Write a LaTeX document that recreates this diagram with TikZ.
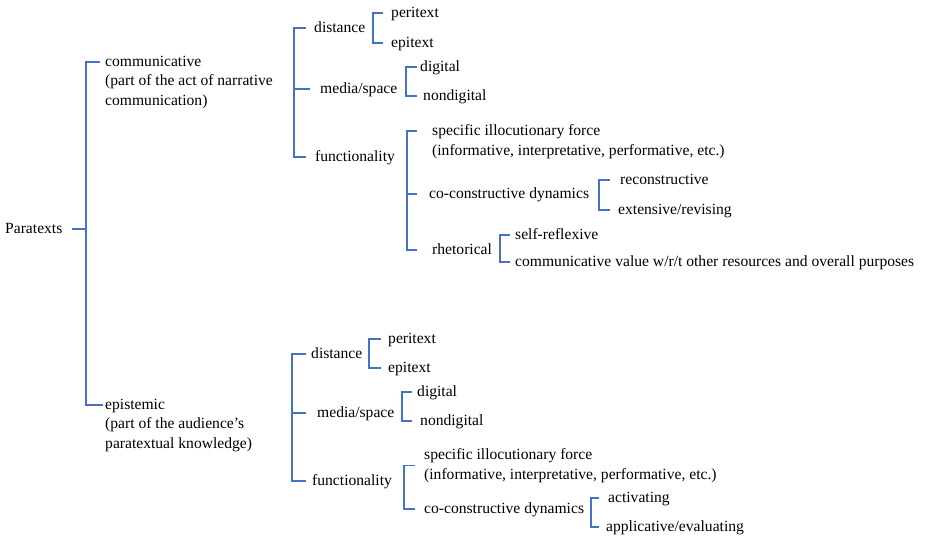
\documentclass[tikz,border=0pt]{standalone}
\usepackage{fontspec}
\setmainfont{Liberation Serif}
\newfontfamily\ser{Liberation Serif}
\definecolor{brblue}{RGB}{68,114,196}
\begin{document}
\begin{tikzpicture}[x=1pt,y=-1pt,
  br/.style={draw=brblue,line width=1.1pt},
  t/.style={inner sep=0pt,anchor=west,text height=12pt,text depth=3pt,font=\fontsize{15.6}{19.5}\selectfont\ser},
  ml/.style={inner sep=0pt,anchor=north west,align=left,font=\fontsize{15.6}{19.5}\selectfont\ser},
  mc/.style={inner sep=0pt,anchor=west,align=left,font=\fontsize{15.6}{19.5}\selectfont\ser}]
\useasboundingbox (0,0) rectangle (931,538);

% root
\node[t] (par) at (5,229) {Paratexts};
\node[ml] (comm) at (105,55.6) {communicative\\(part of the act of narrative\\communication)};
\node[ml] (epis) at (105,398.6) {epistemic\\(part of the audience’s\\paratextual knowledge)};

% upper branch
\node[t] (ud) at (314,28) {distance};
\node[t] (um) at (320,89) {media/space};
\node[t] (uf) at (315,157) {functionality};
\node[t] (up) at (391,13) {peritext};
\node[t] (ue) at (391,43) {epitext};
\node[t] (udg) at (420,67) {digital};
\node[t] (und) at (423,96) {nondigital};
\node[ml] (usp) at (432,124.6) {specific illocutionary force\\(informative, interpretative, performative, etc.)};
\node[t] (ucc) at (429,194) {co-constructive dynamics};
\node[t] (urh) at (432,250) {rhetorical};
\node[t] (urc) at (620,180) {reconstructive};
\node[t] (uex) at (618,210) {extensive/revising};
\node[t] (usr) at (515,235) {self-reflexive};
\node[t] (ucv) at (515,262) {communicative value w/r/t other resources and overall purposes};

% lower branch
\node[t] (ld) at (311,354) {distance};
\node[t] (lm) at (317,413) {media/space};
\node[t] (lf) at (312,481) {functionality};
\node[t] (lp) at (388,339) {peritext};
\node[t] (le) at (388,368) {epitext};
\node[t] (ldg) at (417,392) {digital};
\node[t] (lnd) at (420,421) {nondigital};
\node[mc] (lsp) at (424,465.5) {specific illocutionary force\\(informative, interpretative, performative, etc.)};
\node[t] (lcc) at (424,509) {co-constructive dynamics};
\node[t] (lac) at (608,498) {activating};
\node[t] (lap) at (606,527) {applicative/evaluating};

% root bracket
\coordinate (rsp) at ([xshift=-19pt]epis.west);
\draw[br] ([xshift=-5pt,yshift=-6.4pt]comm.north west) -| ([xshift=-19pt,yshift=-6.4pt]epis.north west) -- ([xshift=-2pt,yshift=-6.4pt]epis.north west);
\draw[br] ([xshift=9pt]par.east) -- (par.east -| rsp);

% upper brackets
\draw[br] ([xshift=-8pt]ud.west) -| ([xshift=-21pt]uf.west) -- ([xshift=-9pt]uf.west);
\draw[br] ([xshift=-10pt]um.west) -- ++(-16,0);
\draw[br] ([xshift=-8pt]up.west) -| ([xshift=-18pt]ue.west) -- ([xshift=-8pt]ue.west);
\draw[br] ([xshift=-3pt]udg.west) -| ([xshift=-17pt]und.west) -- ([xshift=-6pt]und.west);
\draw[br] ([xshift=-15pt,yshift=-6.4pt]usp.north west) -| ([xshift=-25pt]urh.west) -- ([xshift=-15pt]urh.west);
\draw[br] ([xshift=-12pt]ucc.west) -- ++(-10,0);
\draw[br] ([xshift=-10pt]urc.west) -| ([xshift=-19pt]uex.west) -- ([xshift=-8pt]uex.west);
\draw[br] ([xshift=-5pt]usr.west) -| ([xshift=-15pt]ucv.west) -- ([xshift=-5pt]ucv.west);

% lower brackets
\draw[br] ([xshift=-5pt]ld.west) -| ([xshift=-20pt]lf.west) -- ([xshift=-6pt]lf.west);
\draw[br] ([xshift=-11pt]lm.west) -- ++(-14,0);
\draw[br] ([xshift=-7pt]lp.west) -| ([xshift=-19pt]le.west) -- ([xshift=-7pt]le.west);
\draw[br] ([xshift=-5pt]ldg.west) -| ([xshift=-18pt]lnd.west) -- ([xshift=-8pt]lnd.west);
\draw[br] ([xshift=-9pt]lsp.west) -| ([xshift=-20pt]lcc.west) -- ([xshift=-9pt]lcc.west);
\draw[br] ([xshift=-9pt]lac.west) -| ([xshift=-15pt]lap.west) -- ([xshift=-7pt]lap.west);
\end{tikzpicture}
\end{document}
